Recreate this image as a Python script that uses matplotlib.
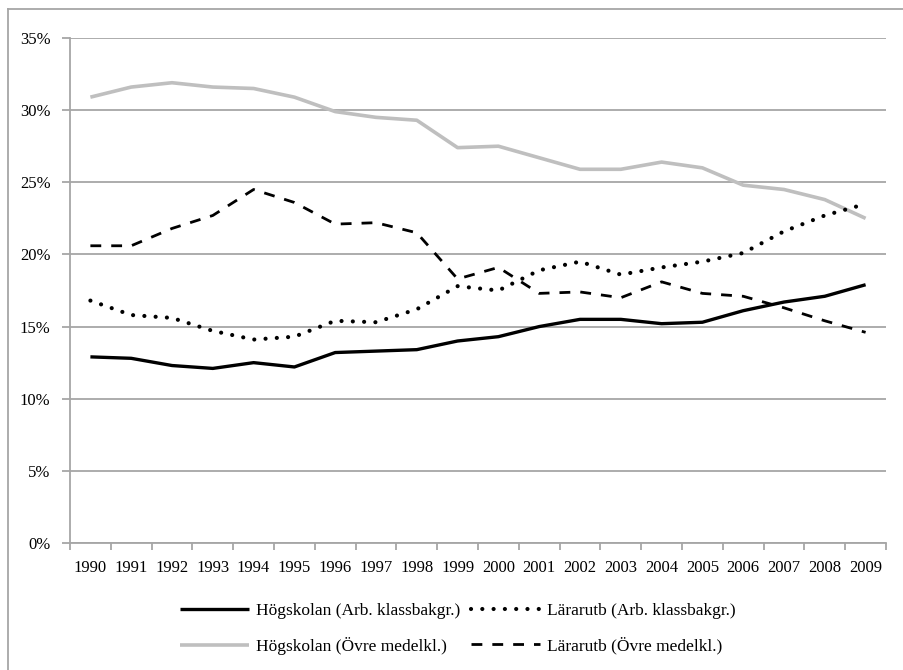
import matplotlib
matplotlib.use("Agg")
import matplotlib.pyplot as plt
from matplotlib.lines import Line2D
import numpy as np

years = [str(y) for y in range(1990, 2010)]
hogskolan_arb = [12.9, 12.8, 12.3, 12.1, 12.5, 12.2, 13.2, 13.3, 13.4, 14.0,
                 14.3, 15.0, 15.5, 15.5, 15.2, 15.3, 16.1, 16.7, 17.1, 17.9]
lararutb_arb = [16.8, 15.8, 15.6, 14.7, 14.1, 14.3, 15.4, 15.3, 16.2, 17.8,
                17.5, 18.9, 19.5, 18.6, 19.1, 19.5, 20.1, 21.6, 22.7, 23.5]
hogskolan_ovre = [30.9, 31.6, 31.9, 31.6, 31.5, 30.9, 29.9, 29.5, 29.3, 27.4,
                  27.5, 26.7, 25.9, 25.9, 26.4, 26.0, 24.8, 24.5, 23.8, 22.5]
lararutb_ovre = [20.6, 20.6, 21.8, 22.7, 24.5, 23.6, 22.1, 22.2, 21.5, 18.3,
                 19.1, 17.3, 17.4, 17.0, 18.1, 17.3, 17.1, 16.3, 15.4, 14.6]
yticks = [0, 5, 10, 15, 20, 25, 30, 35]
labels = ["Högskolan (Arb. klassbakgr.)", "Lärarutb (Arb. klassbakgr.)",
          "Högskolan (Övre medelkl.)", "Lärarutb (Övre medelkl.)"]

plt.rcParams['font.family'] = ['Liberation Serif', 'DejaVu Serif']
W, H = 904, 670
fig = plt.figure(figsize=(W / 100, H / 100), dpi=100)
fig.patch.set_facecolor('white')

grid_c = '#A6A6A6'
# outer border (top & left visible)
fig.add_artist(Line2D([8 / W, 1.0], [1 - 9 / H, 1 - 9 / H], color=grid_c, lw=1.3,
                      transform=fig.transFigure))
fig.add_artist(Line2D([8 / W, 8 / W], [0, 1 - 9 / H], color=grid_c, lw=1.3,
                      transform=fig.transFigure))

ax = fig.add_axes([70 / W, (H - 543) / H, 816 / W, (543 - 38) / H])
x = np.arange(len(years))

l1, = ax.plot(x, hogskolan_arb, color='black', lw=2.4, solid_capstyle='butt', zorder=4)
l2, = ax.plot(x, lararutb_arb, color='black', lw=3.0, linestyle=(0, (0.01, 2.7)),
              dash_capstyle='round', zorder=4)
l3, = ax.plot(x, hogskolan_ovre, color='#BFBFBF', lw=2.6, solid_capstyle='butt', zorder=3)
l4, = ax.plot(x, lararutb_ovre, color='black', lw=2.0, linestyle=(0, (3.9, 3.6)),
              dash_capstyle='butt', zorder=4)

ax.set_xlim(-0.5, len(years) - 0.5)
ax.set_ylim(0, 35)
ax.set_yticks(yticks)
ax.set_yticklabels([f"{v}%" for v in yticks])
ax.yaxis.grid(True, color=grid_c, lw=1.3)
ax.set_axisbelow(True)

ax.set_xticks(np.arange(-0.5, len(years), 1.0))
ax.set_xticklabels([])
ax.set_xticks(x, minor=True)
ax.set_xticklabels(years, minor=True)
ax.tick_params(axis='x', which='major', direction='out', length=5, width=1.3, color=grid_c)
ax.tick_params(axis='x', which='minor', length=0, pad=12, labelsize=12)
ax.tick_params(axis='y', direction='out', length=6, width=1.3, color=grid_c,
               labelsize=12, pad=8)

for s in ['top', 'right']:
    ax.spines[s].set_visible(False)
for s in ['left', 'bottom']:
    ax.spines[s].set_color(grid_c)
    ax.spines[s].set_linewidth(1.3)

leg = fig.legend([l1, l3, l2, l4], [labels[0], labels[2], labels[1], labels[3]],
                 ncol=2, loc='center', bbox_to_anchor=(458 / W, 1 - 629 / H),
                 frameon=False, fontsize=12.5, handlelength=4.0, handletextpad=0.4,
                 columnspacing=0.6, labelspacing=1.0)

fig.savefig('out.png', dpi=100, facecolor='white')
